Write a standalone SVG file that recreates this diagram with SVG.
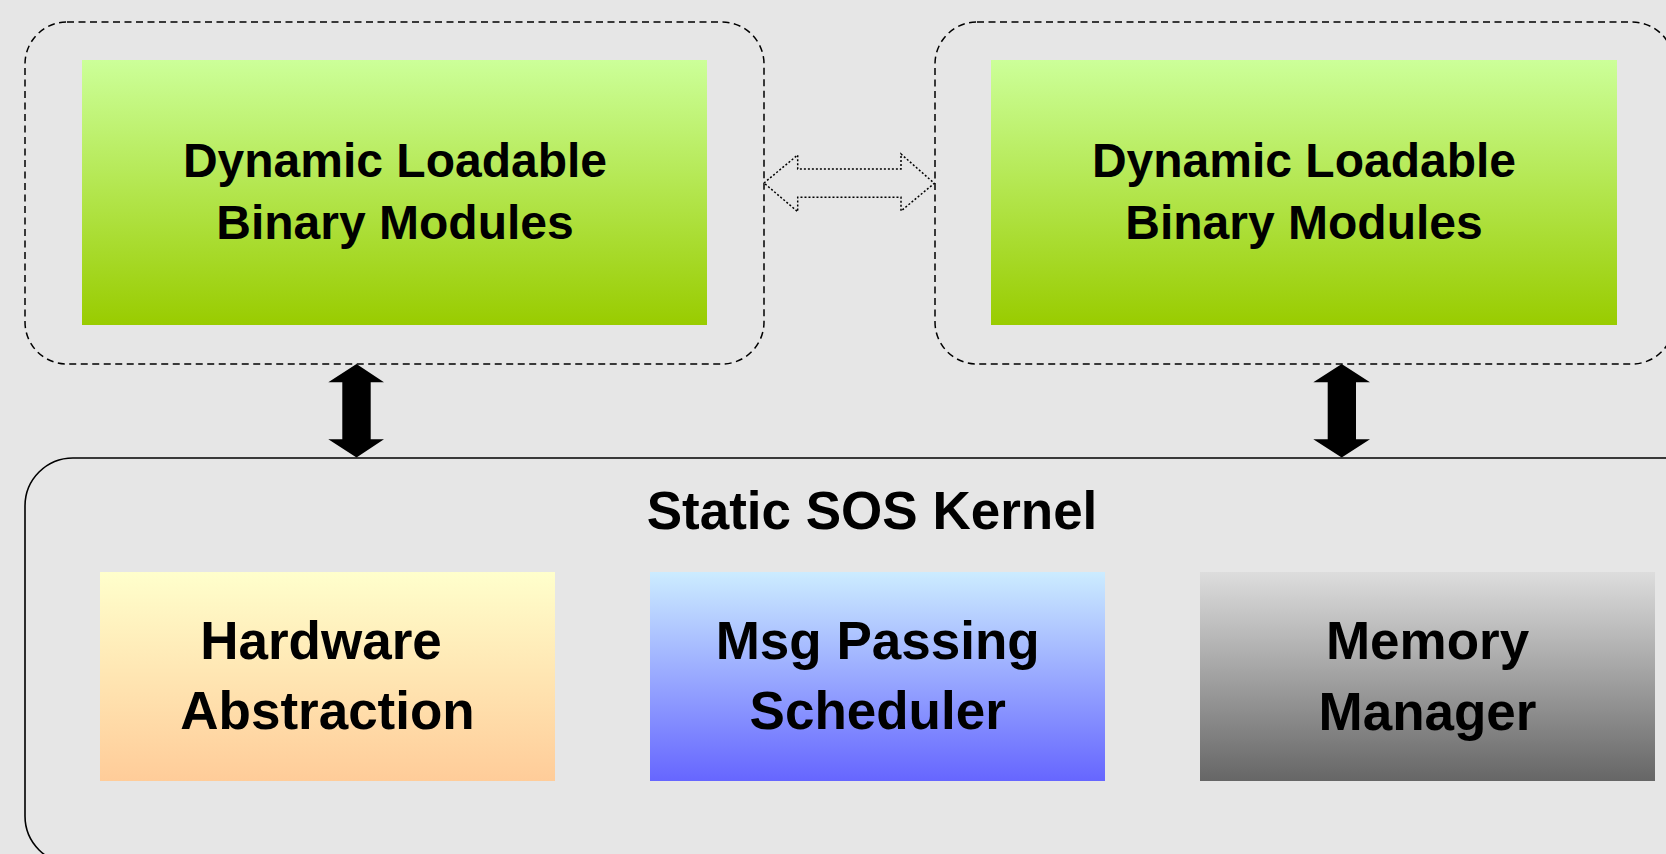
<svg xmlns="http://www.w3.org/2000/svg" width="1666" height="854" viewBox="0 0 1666 854">
  <defs>
    <linearGradient id="gGreen" x1="0" y1="0" x2="0" y2="1">
      <stop offset="0" stop-color="#CCFF99"/>
      <stop offset="1" stop-color="#99CC00"/>
    </linearGradient>
    <linearGradient id="gPeach" x1="0" y1="0" x2="0" y2="1">
      <stop offset="0" stop-color="#FFFFCC"/>
      <stop offset="1" stop-color="#FFCC99"/>
    </linearGradient>
    <linearGradient id="gBlue" x1="0" y1="0" x2="0" y2="1">
      <stop offset="0" stop-color="#CCECFF"/>
      <stop offset="1" stop-color="#6666FF"/>
    </linearGradient>
    <linearGradient id="gGray" x1="0" y1="0" x2="0" y2="1">
      <stop offset="0" stop-color="#DDDDDD"/>
      <stop offset="1" stop-color="#666666"/>
    </linearGradient>
  </defs>
  <style>
    .lbl { font-family: "Liberation Sans", Arial, sans-serif; font-weight: bold; fill: #000; text-anchor: middle; }
    .dl { font-size: 48px; }
    .kl { font-size: 53px; }
    .frame { fill: none; stroke: #000; stroke-width: 1.5; stroke-dasharray: 7 4.5; }
    .kernel { fill: none; stroke: #000; stroke-width: 1.6; }
    .solidArrow { fill: #000; stroke: none; }
    .dotArrow { fill: #E6E6E6; stroke: #000; stroke-width: 1.5; stroke-dasharray: 2 2; }
  </style>

  <rect x="0" y="0" width="1666" height="854" fill="#E6E6E6"/>

  <!-- loadable module containers -->
  <g id="module-left">
    <rect class="frame" x="25" y="22" width="739" height="342" rx="42" ry="42"/>
    <rect x="82" y="60" width="625" height="265" fill="url(#gGreen)"/>
    <text class="lbl dl" x="395" y="177">Dynamic Loadable</text>
    <text class="lbl dl" x="395" y="239">Binary Modules</text>
  </g>

  <g id="module-right">
    <rect class="frame" x="935" y="22" width="739" height="342" rx="42" ry="42"/>
    <rect x="991" y="60" width="626" height="265" fill="url(#gGreen)"/>
    <text class="lbl dl" x="1304" y="177">Dynamic Loadable</text>
    <text class="lbl dl" x="1304" y="239">Binary Modules</text>
  </g>

  <!-- kernel -->
  <g id="kernel">
    <rect class="kernel" x="25" y="458" width="1700" height="406" rx="48" ry="48"/>
    <text class="lbl kl" x="872" y="529">Static SOS Kernel</text>
  </g>

  <g id="hardware-abstraction">
    <rect x="100" y="572" width="455" height="209" fill="url(#gPeach)"/>
    <text class="lbl kl" x="321" y="659">Hardware</text>
    <text class="lbl kl" x="327.5" y="729">Abstraction</text>
  </g>

  <g id="msg-scheduler">
    <rect x="650" y="572" width="455" height="209" fill="url(#gBlue)"/>
    <text class="lbl kl" x="877.7" y="659">Msg Passing</text>
    <text class="lbl kl" x="877.7" y="729">Scheduler</text>
  </g>

  <g id="memory-manager">
    <rect x="1200" y="572" width="455" height="209" fill="url(#gGray)"/>
    <text class="lbl kl" x="1427.5" y="659">Memory</text>
    <text class="lbl kl" x="1427.5" y="730">Manager</text>
  </g>

  <!-- connectors -->
  <g id="connectors">
    <polygon class="dotArrow" points="764,183 797.7,155 797.7,169 901,169 901,154 934.3,183.3 901,211 901,197.3 797.7,197.3 797.7,211.7"/>
    <polygon class="solidArrow" points="356.5,364 384,382.3 370.7,382.3 370.7,439.3 384,439.3 356.5,457.5 328.3,439.3 342.3,439.3 342.3,382.3 328.3,382.3"/>
    <polygon class="solidArrow" points="1341.7,364 1370,382.3 1356,382.3 1356,439.3 1370,439.3 1341.7,457.5 1313.3,439.3 1327.7,439.3 1327.7,382.3 1313.3,382.3"/>
  </g>
</svg>
